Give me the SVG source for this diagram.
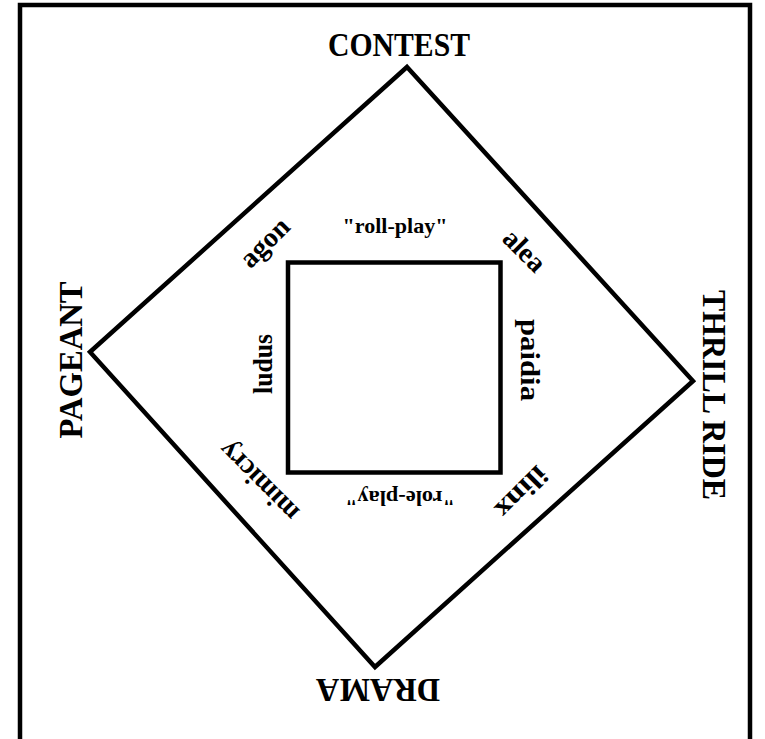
<svg xmlns="http://www.w3.org/2000/svg" width="765" height="739" viewBox="0 0 765 739">
<style>
.line{fill:none;stroke:#000;stroke-width:4.5;stroke-linejoin:miter}
.corner{font-family:"Liberation Serif","Times New Roman",serif;font-weight:bold;font-size:34px;fill:#000;text-anchor:middle}
.lbl{font-family:"Liberation Serif","Times New Roman",serif;font-weight:bold;font-size:28px;fill:#000;text-anchor:middle}
.small{font-family:"Liberation Serif","Times New Roman",serif;font-weight:bold;font-size:22px;fill:#000;text-anchor:middle}
</style>
<rect x="0" y="0" width="765" height="739" fill="#fff"/>
<g id="frame"><path class="line" d="M20,739 V5 H750 V739" stroke-width="4"/></g>
<g id="connectors">
<path class="line" d="M407,67 L693,381 L375,667 L90,352 Z"/>
</g>
<g id="inner"><rect class="line" x="288" y="262.5" width="212.5" height="210" stroke-width="5"/></g>
<g id="contest"><text class="corner" x="399" y="56" textLength="142" lengthAdjust="spacingAndGlyphs">CONTEST</text></g>
<g id="pageant"><text class="corner" transform="translate(82,360) rotate(-90)" x="0" y="0" textLength="157" lengthAdjust="spacingAndGlyphs">PAGEANT</text></g>
<g id="thrill-ride"><text class="corner" transform="translate(703,395) rotate(90)" x="0" y="0" textLength="210" lengthAdjust="spacingAndGlyphs">THRILL RIDE</text></g>
<g id="drama"><text class="corner" transform="translate(378,679) rotate(180)" x="0" y="0" textLength="124" lengthAdjust="spacingAndGlyphs">DRAMA</text></g>
<g id="agon"><text class="lbl" transform="translate(271,249) rotate(-45)" x="0" y="0" textLength="58" lengthAdjust="spacingAndGlyphs">agon</text></g>
<g id="alea"><text class="lbl" transform="translate(518,257) rotate(45)" x="0" y="0">alea</text></g>
<g id="mimicry"><text class="lbl" transform="translate(265,475) rotate(225)" x="0" y="0">mimicry</text></g>
<g id="ilinx"><text class="lbl" transform="translate(515,486) rotate(135)" x="0" y="0" textLength="62" lengthAdjust="spacingAndGlyphs">ilinx</text></g>
<g id="ludus"><text class="lbl" transform="translate(272,364) rotate(-90)" x="0" y="0" textLength="60" lengthAdjust="spacingAndGlyphs">ludus</text></g>
<g id="paidia"><text class="lbl" transform="translate(521,360) rotate(90)" x="0" y="0" textLength="82" lengthAdjust="spacingAndGlyphs">paidia</text></g>
<g id="roll-play"><text class="small" x="395" y="233" textLength="105" lengthAdjust="spacingAndGlyphs">"roll-play"</text></g>
<g id="role-play"><text class="small" transform="translate(400,491) rotate(180)" x="0" y="0" textLength="110" lengthAdjust="spacingAndGlyphs">"role-play"</text></g>
</svg>
